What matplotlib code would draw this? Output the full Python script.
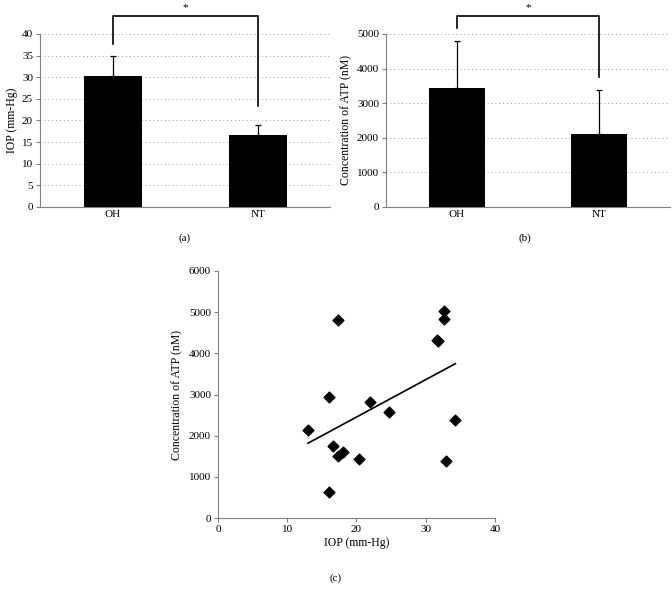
import matplotlib.pyplot as plt
import numpy as np

plt.rcParams['font.family'] = ['Liberation Serif', 'DejaVu Serif']
plt.rcParams['font.size'] = 8
plt.rcParams['axes.labelsize'] = 8.5

groups = ["OH", "NT"]
iop_mean = [30.3, 16.7]
iop_err = [4.5, 2.2]
atp_mean = [3450, 2100]
atp_err = [1350, 1280]

# scatter (c)
iop_pts = [13.0, 16.0, 17.4, 16.6, 16.0, 17.3, 18.0, 20.4, 22.0, 24.7,
           31.6, 31.8, 32.7, 32.7, 33.0, 34.3]
atp_pts = [2135, 2951, 4811, 1749, 631, 1506, 1603, 1433, 2806, 2571,
           4330, 4290, 5040, 4840, 1383, 2369]

axis_col = '#808080'


def style(ax):
    for s in ['top', 'right']:
        ax.spines[s].set_visible(False)
    for s in ['left', 'bottom']:
        ax.spines[s].set_color(axis_col)
        ax.spines[s].set_linewidth(0.8)
    ax.tick_params(axis='both', length=3, color=axis_col, width=0.8, pad=2)
    ax.tick_params(axis='x', length=0)


def bar_panel(ax, means, errs, ymax, ystep, ylabel, width, br):
    x = np.arange(len(groups))
    ax.bar(x, means, width=width, color='black', zorder=3)
    ax.errorbar(x, means, yerr=[[0, 0], errs], fmt='none', ecolor='black',
                elinewidth=0.9, capsize=2.5, capthick=0.9, zorder=4)
    ax.set_xlim(-0.5, 1.5)
    ax.set_ylim(0, ymax)
    ax.set_yticks(np.arange(0, ymax + ystep / 2, ystep))
    ax.set_xticks(x)
    ax.set_xticklabels(groups)
    ax.yaxis.grid(True, linestyle=(0, (1, 3)), color='#999999', linewidth=0.7)
    ax.set_axisbelow(True)
    ax.set_ylabel(ylabel, labelpad=3)
    style(ax)
    top, lb, rb = br
    ax.plot([0, 0, 1, 1], [lb, top, top, rb], color='black', lw=1.2,
            clip_on=False, zorder=5)
    ax.text(0.5, top + ymax * 0.02, '*', ha='center', va='bottom',
            fontsize=8, clip_on=False)


fig = plt.figure(figsize=(6.72, 5.89), dpi=100)

ax1 = fig.add_axes([0.0595, 0.6486, 0.432, 0.2937])
bar_panel(ax1, iop_mean, iop_err, 40, 5, 'IOP (mm-Hg)', 0.4, (44.2, 37.7, 23.4))

ax2 = fig.add_axes([0.5744, 0.6486, 0.4226, 0.2937])
bar_panel(ax2, atp_mean, atp_err, 5000, 1000, 'Concentration of ATP (nM)', 0.39,
          (5520, 5173, 3757))

ax3 = fig.add_axes([0.3244, 0.1205, 0.412, 0.4194])
ax3.scatter(iop_pts, atp_pts, marker='D', s=30, color='black', zorder=3)
k, b = np.polyfit(iop_pts, atp_pts, 1)
xs = np.array([min(iop_pts), max(iop_pts)])
ax3.plot(xs, k * xs + b, color='black', lw=1.2)
ax3.set_xlim(0, 40)
ax3.set_ylim(0, 6000)
ax3.set_xticks(np.arange(0, 41, 10))
ax3.set_yticks(np.arange(0, 6001, 1000))
ax3.set_xlabel('IOP (mm-Hg)', labelpad=2)
ax3.set_ylabel('Concentration of ATP (nM)', labelpad=4)
style(ax3)
ax3.tick_params(axis='x', length=3)

fig.text(185 / 672, 1 - 238 / 589, '(a)', ha='center', va='center')
fig.text(525 / 672, 1 - 238 / 589, '(b)', ha='center', va='center')
fig.text(336 / 672, 1 - 578 / 589, '(c)', ha='center', va='center')

fig.savefig('out.png', dpi=100)
